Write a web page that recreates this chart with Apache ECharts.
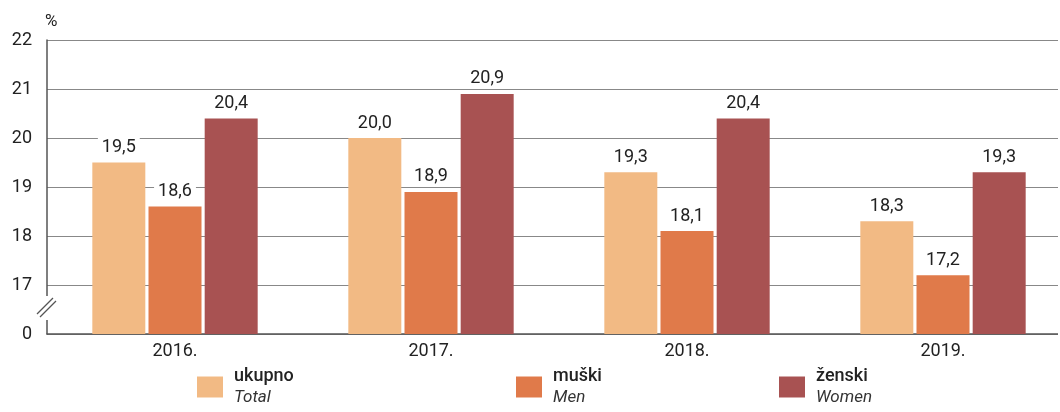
<!DOCTYPE html>
<html>
<head>
<meta charset="utf-8">
<script src="https://cdn.jsdelivr.net/npm/echarts@6/dist/echarts.min.js"></script>
<style>
  html, body { margin: 0; padding: 0; background: #fff; overflow: hidden; }
  /* malo šire od prozora da razmak kategorija odgovara originalu */
  #chart { width: 1071px; height: 412px; }
</style>
</head>
<body>
<div id="chart"></div>
<script>
// podaci
const godine = ['2016.', '2017.', '2018.', '2019.'];
const ukupno = [19.5, 20.0, 19.3, 18.3];
const muski = [18.6, 18.9, 18.1, 17.2];
const zenski = [20.4, 20.9, 20.4, 19.3];

const FONT = '"Liberation Sans Narrow", "Roboto", "Liberation Sans", sans-serif';
const fmt = v => v.toFixed(1).replace('.', ',');

const chart = echarts.init(document.getElementById('chart'));

// legenda - svaka stavka posebno (razmaci nisu jednaki)
const legendRich = {
  a: { fontFamily: FONT, fontSize: 18, color: '#222', fontWeight: 500, lineHeight: 22 },
  b: { fontFamily: FONT, fontSize: 17, color: '#333', fontStyle: 'italic', lineHeight: 22 }
};
const makeLegend = (name, en, left) => ({
  data: [name],
  left: left,
  top: 367,
  padding: 0,
  itemWidth: 26,
  itemHeight: 21,
  icon: 'rect',
  selectedMode: false,
  formatter: () => '{a|' + name + '}\n{b|' + en + '}',
  textStyle: { rich: legendRich, padding: [0, 0, 0, 6] }
});

const barLabel = {
  show: true,
  position: 'top',
  distance: 6,
  formatter: p => fmt(p.value),
  fontFamily: FONT,
  fontSize: 18,
  color: '#222',
  backgroundColor: '#fff',
  padding: [1, 4, 0, 4]
};

const option = {
  animation: false,
  grid: { left: 47, right: 0, top: 40, bottom: 78 },
  legend: [
    makeLegend('ukupno', 'Total', 197),
    makeLegend('muški', 'Men', 516),
    makeLegend('ženski', 'Women', 779)
  ],
  xAxis: {
    type: 'category',
    data: godine,
    axisTick: { show: false },
    axisLine: { lineStyle: { color: '#555', width: 1.5 } },
    axisLabel: { fontFamily: FONT, fontSize: 18, color: '#222', margin: 8 }
  },
  yAxis: {
    type: 'value',
    min: 16,
    max: 22,
    interval: 1,
    name: '%',
    nameLocation: 'end',
    nameGap: 10,
    nameTextStyle: { fontFamily: FONT, fontSize: 17, color: '#222', align: 'left', padding: [0, 0, 0, -2] },
    axisLine: { show: true, lineStyle: { color: '#555', width: 1.5 } },
    axisTick: { show: false },
    axisLabel: {
      fontFamily: FONT, fontSize: 18, color: '#222', margin: 15,
      formatter: v => (v === 16 ? '0' : String(v))
    },
    splitLine: { lineStyle: { color: '#888', width: 1 } }
  },
  series: [
    { name: 'ukupno', type: 'bar', data: ukupno, barWidth: 53, barGap: '6%',
      itemStyle: { color: '#F2BA84' }, label: barLabel },
    { name: 'muški', type: 'bar', data: muski, barWidth: 53, barGap: '6%',
      itemStyle: { color: '#E07A4A' }, label: barLabel },
    { name: 'ženski', type: 'bar', data: zenski, barWidth: 53, barGap: '6%',
      itemStyle: { color: '#A85252' }, label: barLabel }
  ],
  graphic: [
    // prekid osi
    { type: 'rect', shape: { x: 44, y: 296, width: 6, height: 24 }, style: { fill: '#fff' }, z: 100 },
    { type: 'line', shape: { x1: 37, y1: 314, x2: 53, y2: 298 }, style: { stroke: '#555', lineWidth: 1.2 }, z: 101 },
    { type: 'line', shape: { x1: 40, y1: 317, x2: 56, y2: 301 }, style: { stroke: '#555', lineWidth: 1.2 }, z: 101 },
    // linije završavaju malo prije ruba
    { type: 'rect', shape: { x: 1058, y: 30, width: 20, height: 310 }, style: { fill: '#fff' }, z: 100 }
  ]
};

chart.setOption(option);
</script>
</body>
</html>
